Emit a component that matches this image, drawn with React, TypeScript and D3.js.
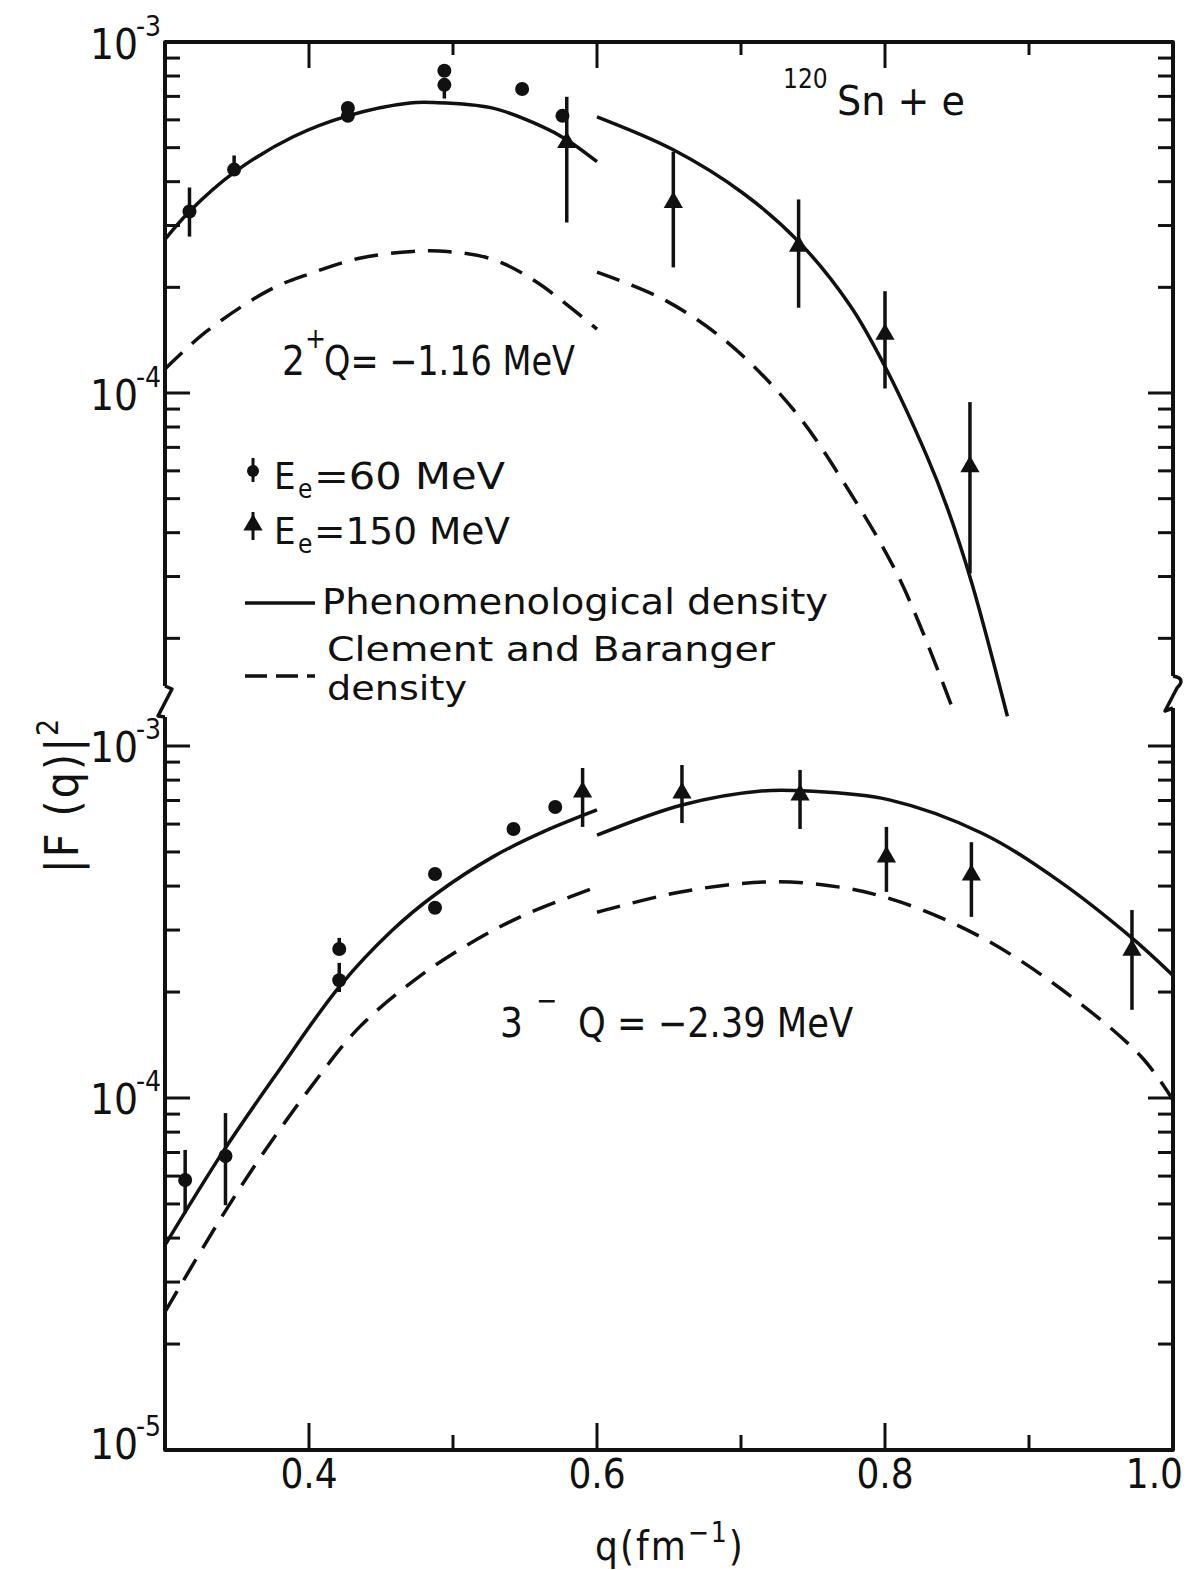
import React, { useEffect, useRef } from 'react';
import * as d3 from 'd3';

const W = 1187;
const H = 1570;

// q axis
const xMajor = [0.4, 0.6, 0.8, 1.0];
const xMinor = [0.5, 0.7, 0.9];
const xTickLabels = ['0.4', '0.6', '0.8', '1.0'];

// decades labelled on the left axis
const upDecades = [1e-3, 1e-4];
const loDecades = [1e-3, 1e-4, 1e-5];

// 2+ state (upper panel): 60 MeV data
const up60Q = [0.317, 0.348, 0.427, 0.427, 0.494, 0.494, 0.548, 0.576];
const up60V = [3.29e-4, 4.33e-4, 6.49e-4, 6.16e-4, 8.28e-4, 7.55e-4, 7.35e-4, 6.16e-4];
const up60Lo = [2.79e-4, 4.2e-4, null, null, null, 6.9e-4, null, null];
const up60Hi = [3.85e-4, 4.75e-4, null, null, null, 7.55e-4, null, null];

// 2+ state: 150 MeV data
const up150Q = [0.579, 0.653, 0.74, 0.8, 0.859];
const up150V = [5.17e-4, 3.49e-4, 2.62e-4, 1.47e-4, 6.17e-5];
const up150Lo = [3.06e-4, 2.28e-4, 1.75e-4, 1.03e-4, 3.06e-5];
const up150Hi = [6.98e-4, 4.87e-4, 3.56e-4, 1.95e-4, 9.42e-5];

// 2+ phenomenological density (two segments)
const upSolidAQ = [0.3, 0.317, 0.348, 0.389, 0.427, 0.47, 0.487, 0.527, 0.562, 0.579, 0.6];
const upSolidAV = [2.74e-4, 3.29e-4, 4.25e-4, 5.37e-4, 6.16e-4, 6.7e-4, 6.72e-4, 6.49e-4, 5.74e-4, 5.27e-4, 4.56e-4];
const upSolidBQ = [0.6, 0.653, 0.701, 0.74, 0.776, 0.8, 0.829, 0.843, 0.86, 0.885];
const upSolidBV = [6.12e-4, 4.93e-4, 3.72e-4, 2.7e-4, 1.77e-4, 1.19e-4, 6.62e-5, 4.74e-5, 2.9e-5, 1.2e-5];

// 2+ Clement and Baranger density
const upDashAQ = [0.3, 0.329, 0.373, 0.401, 0.435, 0.472, 0.496, 0.528, 0.558, 0.6];
const upDashAV = [1.17e-4, 1.5e-4, 1.97e-4, 2.19e-4, 2.42e-4, 2.53e-4, 2.53e-4, 2.4e-4, 2.07e-4, 1.52e-4];
const upDashBQ = [0.6, 0.646, 0.69, 0.736, 0.771, 0.81, 0.847];
const upDashBV = [2.21e-4, 1.85e-4, 1.4e-4, 9.01e-5, 5.59e-5, 2.96e-5, 1.26e-5];

// 3- state (lower panel): 60 MeV data
const lo60Q = [0.314, 0.342, 0.421, 0.421, 0.4875, 0.4875, 0.542, 0.571];
const lo60V = [5.85e-5, 6.84e-5, 2.65e-4, 2.16e-4, 4.33e-4, 3.47e-4, 5.81e-4, 6.71e-4];
const lo60Lo = [4.71e-5, 4.96e-5, 2.65e-4, 2.0e-4, null, null, null, null];
const lo60Hi = [7.12e-5, 9.06e-5, 2.85e-4, 2.42e-4, null, null, null, null];

// 3- state: 150 MeV data
const lo150Q = [0.59, 0.659, 0.741, 0.801, 0.86, 0.9715];
const lo150V = [7.4e-4, 7.35e-4, 7.26e-4, 4.84e-4, 4.3e-4, 2.63e-4];
const lo150Lo = [5.89e-4, 6.04e-4, 5.81e-4, 3.85e-4, 3.27e-4, 1.78e-4];
const lo150Hi = [8.66e-4, 8.83e-4, 8.55e-4, 5.89e-4, 5.33e-4, 3.42e-4];

// 3- phenomenological density
const loSolidAQ = [0.3, 0.341, 0.378, 0.421, 0.458, 0.4875, 0.528, 0.5625, 0.6];
const loSolidAV = [3.82e-5, 7.11e-5, 1.18e-4, 2.07e-4, 3.0e-4, 3.78e-4, 4.85e-4, 5.7e-4, 6.58e-4];
const loSolidBQ = [0.6, 0.659, 0.714, 0.746, 0.803, 0.867, 0.92, 0.971, 1.0];
const loSolidBV = [5.58e-4, 6.8e-4, 7.45e-4, 7.45e-4, 7.03e-4, 5.66e-4, 4.16e-4, 2.86e-4, 2.23e-4];

// 3- Clement and Baranger density
const loDashAQ = [0.3, 0.338, 0.366, 0.401, 0.435, 0.477, 0.517, 0.551, 0.6];
const loDashAV = [2.47e-5, 4.5e-5, 6.76e-5, 1.07e-4, 1.59e-4, 2.22e-4, 2.83e-4, 3.33e-4, 3.98e-4];
const loDashBQ = [0.6, 0.658, 0.719, 0.769, 0.811, 0.867, 0.923, 0.978, 1.0];
const loDashBV = [3.37e-4, 3.85e-4, 4.11e-4, 3.97e-4, 3.6e-4, 2.86e-4, 2.03e-4, 1.31e-4, 9.86e-5];

const FONT = "'DejaVu Sans Condensed', 'DejaVu Sans', sans-serif";
const INK = '#111';

function App() {
  const svgRef = useRef<SVGSVGElement>(null);

  useEffect(() => {
    const svg = d3.select(svgRef.current);
    svg.selectAll('*').remove();

    const left = 165, right = 1173, top = 42, bottom = 1450;
    // axis break positions
    const breakL = [686, 717];
    const breakR = [676, 708];

    const x = d3.scaleLinear().domain([0.3, 1.0]).range([left, right]);
    const yUp = d3.scaleLog().domain([1e-4, 1e-3]).range([393, top]);
    const yLo = d3.scaleLog().domain([1e-5, 1e-3]).range([bottom, 746]);

    const g = svg.append('g');

    // frame
    const frame = (d: string, w = 4) =>
      g.append('path').attr('d', d).attr('fill', 'none').attr('stroke', INK)
        .attr('stroke-width', w).attr('stroke-linejoin', 'round');
    frame(`M${left},${breakL[0]} V${top} H${right} V${breakR[0]}`);
    frame(`M${left},${breakL[1]} V${bottom} H${right} V${breakR[1]}`);
    // zig-zag breaks
    frame(`M${left},${breakL[0]} L${left + 7},${breakL[0] + 3} L${left - 7},${breakL[1] - 1} L${left},${breakL[1]}`, 3.5);
    frame(`M${right},${breakR[0]} C${right + 12},${breakR[0] + 2} ${right + 8},${breakR[0] + 8} ${right + 4},${breakR[0] + 12} L${right - 8},${breakR[1] + 3} L${right},${breakR[1]}`, 3.5);

    // x ticks, top and bottom
    const tick = (x1: number, y1: number, x2: number, y2: number, w = 3) =>
      g.append('line').attr('x1', x1).attr('y1', y1).attr('x2', x2).attr('y2', y2)
        .attr('stroke', INK).attr('stroke-width', w);
    xMajor.forEach((q) => {
      if (q < 1) {
        tick(x(q), top, x(q), top + 26);
        tick(x(q), bottom, x(q), bottom - 27);
      }
    });
    xMinor.forEach((q) => {
      tick(x(q), top, x(q), top + 13);
      tick(x(q), bottom, x(q), bottom - 15);
    });

    // y ticks (log minor ticks) on both sides
    const yTicks = (scale: d3.ScaleLogarithmic<number, number>, lo: number, hi: number, yMin: number, yMax: number) => {
      for (let e = -6; e <= -3; e++) {
        for (let m = 1; m <= 9; m++) {
          const v = m * Math.pow(10, e);
          if (v < lo * 0.999 || v > hi * 1.001) continue;
          const y = scale(v);
          if (y < yMin + 2 || y > yMax - 2) continue;
          const len = m === 1 ? 25 : 15;
          tick(left, y, left + len, y);
          tick(right, y, right - len, y);
        }
      }
    };
    yTicks(yUp, 2e-5, 1e-3, top, breakR[0]);
    yTicks(yLo, 1e-5, 1e-3, top, bottom);

    // x tick labels
    xMajor.forEach((q, i) => {
      const last = q === 1;
      g.append('text').attr('x', last ? right + 10 : x(q)).attr('y', bottom + 38)
        .attr('text-anchor', last ? 'end' : 'middle').attr('font-family', FONT).attr('font-size', 40)
        .attr('fill', INK).text(xTickLabels[i]);
    });

    // y decade labels
    const decadeLabel = (y: number, v: number) => {
      const exp = Math.round(Math.log10(v));
      g.append('text').attr('x', 138).attr('y', y).attr('text-anchor', 'end')
        .attr('font-family', FONT).attr('font-size', 42).attr('fill', INK).text('10');
      g.append('text').attr('x', 161).attr('y', y - 23).attr('text-anchor', 'end')
        .attr('font-family', FONT).attr('font-size', 28).attr('fill', INK).text(`-${-exp}`);
    };
    upDecades.forEach((v) => decadeLabel(yUp(v) + 17, v));
    loDecades.forEach((v) => decadeLabel(v === 1e-5 ? yLo(v) + 9 : yLo(v) + 16, v));

    // curves
    const curve = (qs: number[], vs: number[], scale: d3.ScaleLogarithmic<number, number>, dashed: boolean) => {
      const line = d3.line<number>()
        .x((_, i) => x(qs[i]))
        .y((v) => scale(v))
        .curve(d3.curveCatmullRom.alpha(0.5));
      g.append('path').attr('d', line(vs)).attr('fill', 'none').attr('stroke', INK)
        .attr('stroke-width', 3.5).attr('stroke-dasharray', dashed ? '24 13' : null);
    };
    curve(upSolidAQ, upSolidAV, yUp, false);
    curve(upSolidBQ, upSolidBV, yUp, false);
    curve(upDashAQ, upDashAV, yUp, true);
    curve(upDashBQ, upDashBV, yUp, true);
    curve(loSolidAQ, loSolidAV, yLo, false);
    curve(loSolidBQ, loSolidBV, yLo, false);
    curve(loDashAQ, loDashAV, yLo, true);
    curve(loDashBQ, loDashBV, yLo, true);

    // data points
    const errBars = (qs: number[], los: (number | null)[], his: (number | null)[], scale: d3.ScaleLogarithmic<number, number>) => {
      qs.forEach((q, i) => {
        const lo = los[i], hi = his[i];
        if (lo == null || hi == null) return;
        tick(x(q), scale(hi), x(q), scale(lo), 3.5);
      });
    };
    const circles = (qs: number[], vs: number[], scale: d3.ScaleLogarithmic<number, number>) => {
      g.append('g').selectAll('circle').data(vs).enter().append('circle')
        .attr('cx', (_, i) => x(qs[i])).attr('cy', (v) => scale(v)).attr('r', 7).attr('fill', INK);
    };
    const tri = d3.symbol().type(d3.symbolTriangle).size(160);
    const triangles = (qs: number[], vs: number[], scale: d3.ScaleLogarithmic<number, number>) => {
      g.append('g').selectAll('path').data(vs).enter().append('path')
        .attr('d', tri).attr('fill', INK)
        .attr('transform', (v, i) => `translate(${x(qs[i])},${scale(v)})`);
    };
    errBars(up60Q, up60Lo, up60Hi, yUp);
    circles(up60Q, up60V, yUp);
    errBars(up150Q, up150Lo, up150Hi, yUp);
    triangles(up150Q, up150V, yUp);
    errBars(lo60Q, lo60Lo, lo60Hi, yLo);
    circles(lo60Q, lo60V, yLo);
    errBars(lo150Q, lo150Lo, lo150Hi, yLo);
    triangles(lo150Q, lo150V, yLo);

    const text = (tx: number, ty: number, size: number, s: string, len?: number) => {
      const t = g.append('text').attr('x', tx).attr('y', ty).attr('font-family', FONT)
        .attr('font-size', size).attr('fill', INK).text(s);
      if (len) t.attr('textLength', len).attr('lengthAdjust', 'spacingAndGlyphs');
      return t;
    };

    // annotations
    text(783, 88, 26, '120');
    text(837, 115, 40, 'Sn + e', 128);
    text(282, 375, 40, '2');
    text(305, 348, 28, '+');
    text(324, 375, 40, 'Q= \u22121.16 MeV', 251);
    text(500, 1037, 40, '3');
    text(536, 1010, 28, '\u2212');
    text(578, 1037, 40, 'Q = \u22122.39 MeV', 275);

    // legend
    tick(253, 458, 253, 482, 3);
    g.append('circle').attr('cx', 253).attr('cy', 471).attr('r', 6).attr('fill', INK);
    text(274, 489, 38, 'E');
    text(298, 498, 26, 'e');
    text(314, 489, 38, '=60 MeV', 191);
    tick(253, 512, 253, 540, 3);
    g.append('path').attr('d', tri).attr('fill', INK).attr('transform', 'translate(253,525)');
    text(274, 544, 38, 'E');
    text(298, 553, 26, 'e');
    text(314, 544, 38, '=150 MeV', 196);
    tick(245, 603, 315, 603, 3.5);
    text(322, 614, 36, 'Phenomenological density', 506);
    text(327, 661, 33, 'Clement and Baranger', 448);
    g.append('line').attr('x1', 245).attr('y1', 676).attr('x2', 315).attr('y2', 676)
      .attr('stroke', INK).attr('stroke-width', 3.5).attr('stroke-dasharray', '22 9');
    text(327, 700, 33, 'density', 140);

    // axis titles
    const yt = g.append('text').attr('transform', 'translate(78,795) rotate(-90)')
      .attr('text-anchor', 'middle').attr('font-family', FONT).attr('font-size', 46)
      .attr('letter-spacing', 2).attr('fill', INK);
    yt.append('tspan').text('|F (q)|');
    yt.append('tspan').attr('dy', -20).attr('font-size', 30).text('2');

    const xt = g.append('text').attr('x', 670).attr('y', 1560)
      .attr('text-anchor', 'middle').attr('font-family', FONT).attr('font-size', 40)
      .attr('letter-spacing', 2).attr('fill', INK);
    xt.append('tspan').text('q(fm');
    xt.append('tspan').attr('dy', -18).attr('font-size', 28).text('\u22121');
    xt.append('tspan').attr('dy', 18).text(')');
  }, []);

  return (
    <svg ref={svgRef} width={W} height={H}
      style={{ position: 'absolute', left: 0, top: 0, background: '#fff' }} />
  );
}

export default App;
